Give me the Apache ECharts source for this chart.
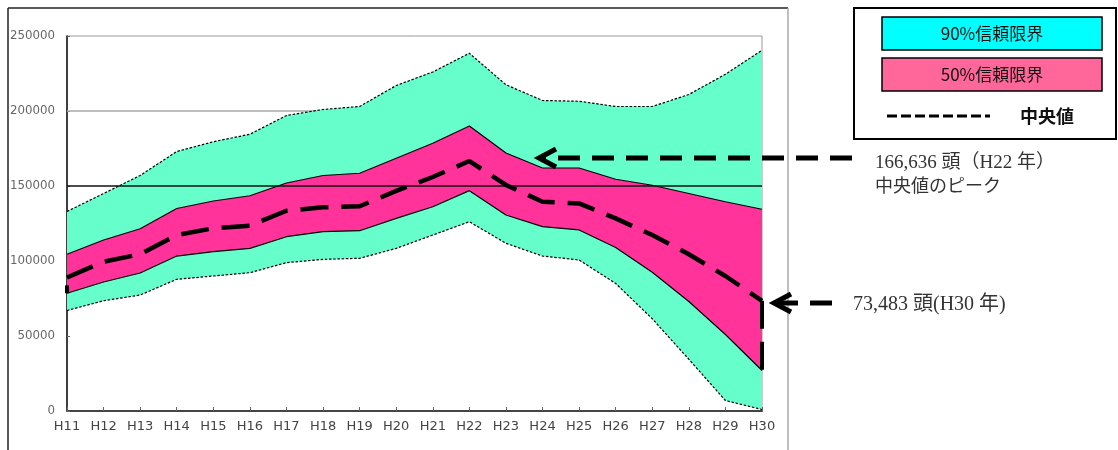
<!DOCTYPE html>
<html>
<head>
<meta charset="utf-8">
<script src="https://cdn.jsdelivr.net/npm/echarts@6/dist/echarts.min.js"></script>
<style>html,body{margin:0;padding:0;background:#fff}#c{width:1118px;height:450px}</style>
</head>
<body>
<div id="c"></div>
<script>
const categories = ['H11','H12','H13','H14','H15','H16','H17','H18','H19','H20','H21','H22','H23','H24','H25','H26','H27','H28','H29','H30'];
const upper90 = [133000,145000,157000,173000,179500,184500,197000,201000,203000,217000,226000,238500,217500,207000,206500,203000,203000,211000,224500,240500];
const upper50 = [104500,114000,121500,135000,140000,143500,152000,157000,158500,168500,178500,190000,172000,162000,162000,154500,150500,145000,139500,134500];
const median  = [89000,99500,104500,117300,121800,123500,133500,135800,136500,146700,156000,166636,150700,139500,138400,128400,117300,104500,90000,73483];
const lower50 = [78500,86000,92000,103300,106200,108400,116200,119600,120200,128400,136200,146900,130700,122900,120700,109000,92500,73000,51000,27000];
const lower90 = [67000,73500,77300,87800,90000,92200,98900,101100,101800,108400,117300,126200,111800,103300,100700,85000,61500,34500,7000,1000];
const yTicks = [0,50000,100000,150000,200000,250000];
const refLine = 150000;
const gridLineVal = 200000;
const legendLabels = ['90%信頼限界','50%信頼限界','中央値'];
const noteTexts = ['166,636 頭（H22 年）','中央値のピーク','73,483 頭(H30 年)'];

const GREEN = '#66FFCC', PINK = '#FF3399';
const diff = (a,b) => a.map((v,i) => v - b[i]);
const last = categories.length - 1;

const chart = echarts.init(document.getElementById('c'));
const dotted = {color:'#000', width:1.2, type:[2.5,1.7]};
const solid = {color:'#000', width:1.2};
const medDash = {color:'#000', width:4.5, type:[28,13]};

chart.setOption({
  animation:false,
  grid:{left:67, right:356, top:36, bottom:39, show:true, borderColor:'#999', borderWidth:1},
  xAxis:{type:'category', data:categories, boundaryGap:false,
    axisLine:{lineStyle:{color:'#444', width:2}},
    axisTick:{inside:true, length:4, alignWithLabel:true, lineStyle:{color:'#666'}},
    axisLabel:{fontFamily:'DejaVu Sans', fontSize:13, color:'#444', margin:9, interval:0},
    splitLine:{show:false}},
  yAxis:{type:'value', min:0, max:250000, interval:50000,
    axisLine:{show:true, lineStyle:{color:'#111', width:1.5}},
    axisTick:{show:true, inside:true, length:3, lineStyle:{color:'#666'}},
    axisLabel:{fontFamily:'DejaVu Sans', fontSize:11.8, color:'#666', margin:12,
      formatter:v => yTicks.includes(v) ? String(v) : ''},
    splitLine:{show:false}},
  series:[
    {type:'line', z:1, data:[], silent:true,
      markLine:{z:1, silent:true, symbol:'none', label:{show:false},
        lineStyle:{color:'#aaa', width:1.5, type:'solid'}, data:[{yAxis:gridLineVal}]}},
    {name:'l90', type:'line', stack:'b', z:2, data:lower90, symbol:'none', lineStyle:dotted},
    {name:'g1', type:'line', stack:'b', z:2, data:diff(lower50,lower90), symbol:'none', lineStyle:solid, areaStyle:{color:GREEN, opacity:1}},
    {name:'p', type:'line', stack:'b', z:2, data:diff(upper50,lower50), symbol:'none', lineStyle:solid, areaStyle:{color:PINK, opacity:1}},
    {name:'g2', type:'line', stack:'b', z:2, data:diff(upper90,upper50), symbol:'none', lineStyle:dotted, areaStyle:{color:GREEN, opacity:1}},
    {type:'line', z:4, data:[], silent:true,
      markLine:{z:4, silent:true, symbol:'none', label:{show:false},
        lineStyle:{color:'#111', width:1.5, type:'solid'}, data:[{yAxis:refLine}]}},
    {name:'median', type:'line', z:6, data:median, symbol:'none', lineStyle:medDash,
      markLine:{z:6, silent:true, symbol:'none', label:{show:false},
        lineStyle:{color:'#000', width:4, type:[28,13]},
        data:[
          [{coord:[categories[last], median[last]]},{coord:[categories[last], lower50[last]]}],
          [{coord:[categories[0], (median[0]+lower50[0])/2]},{coord:[categories[0], lower50[0]]}]
        ]}}
  ],
  graphic:[
    {type:'line', z:100, shape:{x1:8,y1:8,x2:788,y2:8}, style:{stroke:'#222', lineWidth:1.5}},
    {type:'line', z:100, shape:{x1:8,y1:8,x2:8,y2:452}, style:{stroke:'#222', lineWidth:1.5}},
    {type:'line', z:100, shape:{x1:788,y1:8,x2:788,y2:452}, style:{stroke:'#aaa', lineWidth:1.5}},
    {type:'rect', z:100, shape:{x:854,y:8,width:262,height:131}, style:{fill:'#fff', stroke:'#000', lineWidth:2}},
    {type:'rect', z:101, shape:{x:882,y:17,width:220,height:33}, style:{fill:'#00FFFF', stroke:'#000', lineWidth:1.5}},
    {type:'text', z:102, x:992, y:34, style:{text:legendLabels[0], fill:'#111', font:'17px "Noto Sans CJK JP"', align:'center', verticalAlign:'middle'}},
    {type:'rect', z:101, shape:{x:882,y:58,width:220,height:33}, style:{fill:'#FF6699', stroke:'#000', lineWidth:1.5}},
    {type:'text', z:102, x:992, y:75, style:{text:legendLabels[1], fill:'#111', font:'17px "Noto Sans CJK JP"', align:'center', verticalAlign:'middle'}},
    {type:'line', z:102, shape:{x1:887,y1:116,x2:990,y2:116}, style:{stroke:'#000', lineWidth:3, lineDash:[10,4]}},
    {type:'text', z:102, x:1020, y:116, style:{text:legendLabels[2], fill:'#111', font:'bold 18px "Noto Sans CJK JP"', align:'left', verticalAlign:'middle'}},
    {type:'text', z:100, x:875, y:163, style:{text:noteTexts[0], fill:'#333', font:'19px "Liberation Serif", "Noto Sans CJK JP"', align:'left', verticalAlign:'middle'}},
    {type:'text', z:100, x:875, y:185, style:{text:noteTexts[1], fill:'#333', font:'18px "Noto Sans CJK JP"', align:'left', verticalAlign:'middle'}},
    {type:'text', z:100, x:853, y:305, style:{text:noteTexts[2], fill:'#333', font:'20px "Liberation Serif", "Noto Sans CJK JP"', align:'left', verticalAlign:'middle'}},
    {type:'line', z:100, shape:{x1:852,y1:158,x2:542,y2:158}, style:{stroke:'#000', lineWidth:5, lineDash:[22,12]}},
    {type:'polyline', z:100, shape:{points:[[556,149],[539,158],[556,167]]}, style:{stroke:'#000', lineWidth:5, fill:null, lineJoin:'miter'}},
    {type:'line', z:100, shape:{x1:832,y1:303,x2:776,y2:303}, style:{stroke:'#000', lineWidth:5, lineDash:[22,12]}},
    {type:'polyline', z:100, shape:{points:[[791,294],[774,303],[791,312]]}, style:{stroke:'#000', lineWidth:5, fill:null, lineJoin:'miter'}}
  ]
});
</script>
</body>
</html>
